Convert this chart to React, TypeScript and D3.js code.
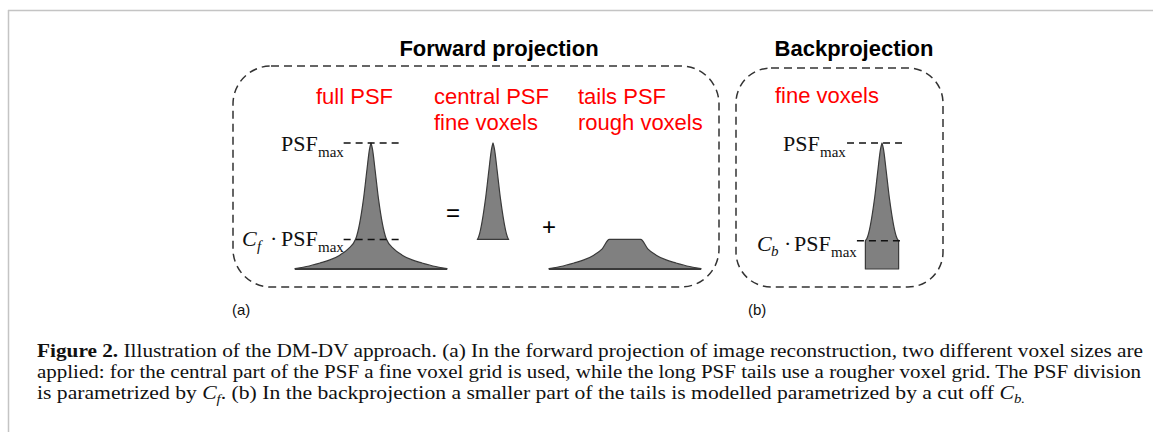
import React from 'react';
import * as d3 from 'd3';

const W = 1153;
const H = 432;

// PSF half-profile: distance from centre (fraction of half-base) and height (fraction of PSF_max)
const PROFILE_X = [0, 0.02, 0.053, 0.1, 0.2, 0.3, 0.41, 0.55, 0.67, 0.85, 1.0];
const PROFILE_Y = [1.0, 0.95, 0.79, 0.55, 0.24, 0.16, 0.11, 0.07, 0.048, 0.02, 0.004];
const CF = 0.235; // forward projection cut
const CB = 0.225; // backprojection cut off

const PANEL_TITLES = ['Forward projection', 'Backprojection'];
const PANEL_TAGS = ['(a)', '(b)'];
const RED_FULL = ['full PSF'];
const RED_CENTRAL = ['central PSF', 'fine voxels'];
const RED_TAILS = ['tails PSF', 'rough voxels'];
const RED_BACK = ['fine voxels'];
const CAPTION_L1 = ' Illustration of the DM-DV approach. (a) In the forward projection of image reconstruction, two different voxel sizes are';
const CAPTION_L2 = 'applied: for the central part of the PSF a fine voxel grid is used, while the long PSF tails use a rougher voxel grid. The PSF division';
const CAPTION_L3A = 'is parametrized by ';
const CAPTION_L3B = '. (b) In the backprojection a smaller part of the tails is modelled parametrized by a cut off ';

type P = [number, number];

const yS = d3.scaleLinear().domain([0, 1]).range([269, 143]);
const mkX = (c: number) => d3.scaleLinear().domain([-1, 1]).range([c - 76, c + 76]);
const xFull = mkX(371);
const xCentral = mkX(493);
const xTails = mkX(625);
const xBack = mkX(882);
const hwAt = d3.scaleLinear().domain(PROFILE_Y).range(PROFILE_X);

const pts: P[] = PROFILE_X.map((x, i) => [x, PROFILE_Y[i]] as P);
const mirror = (a: P[]) => a.map((p) => [-p[0], p[1]] as P).reverse();

const lineFor = (xs: d3.ScaleLinear<number, number>) =>
  d3.line<P>().x((d) => xs(d[0])).y((d) => yS(d[1])).curve(d3.curveMonotoneX);

function fullPath(xs: d3.ScaleLinear<number, number>) {
  const ln = lineFor(xs);
  return (
    ln(mirror(pts))! +
    ln(pts)!.replace(/^M/, 'L') +
    `L${xs(1)},${yS(0)}L${xs(-1)},${yS(0)}Z`
  );
}

function topPath(xs: d3.ScaleLinear<number, number>, cut: number, toBase: boolean) {
  const ln = lineFor(xs);
  const right: P[] = [...pts.filter((p) => p[1] > cut), [hwAt(cut), cut]];
  const left = mirror(right);
  let d = ln(left)! + ln(right)!.replace(/^M/, 'L');
  if (toBase) {
    const hw = hwAt(cut);
    d += `L${xs(hw)},${yS(0)}L${xs(-hw)},${yS(0)}`;
  }
  return d + 'Z';
}

function tailsPath(xs: d3.ScaleLinear<number, number>, cut: number) {
  const ln = lineFor(xs);
  const right: P[] = [[hwAt(cut), cut], ...pts.filter((p) => p[1] < cut)];
  const all = [...mirror(right), ...right];
  return ln(all)! + `L${xs(1)},${yS(0)}L${xs(-1)},${yS(0)}Z`;
}

const FILL = '#808080';
const EDGE = '#3a3a3a';
const SANS = '"Liberation Sans", Arial, sans-serif';
const SERIF = '"Liberation Serif", "Times New Roman", serif';

const Dashed = ({ x1, x2, y }: { x1: number; x2: number; y: number }) => (
  <line x1={x1} x2={x2} y1={y} y2={y} stroke="#111" strokeWidth={1.5} strokeDasharray="7,5" />
);

export default function App() {
  const fullD = fullPath(xFull);
  const centralD = topPath(xCentral, CF, false);
  const tailsD = tailsPath(xTails, CF);
  const backD = topPath(xBack, CB, true);

  return (
    <svg
      width={W}
      height={H}
      viewBox={`0 0 ${W} ${H}`}
      style={{ position: 'absolute', left: 0, top: 0, background: '#fff' }}
    >
      <rect x={0} y={0} width={W} height={H} fill="#fff" />
      {/* page frame */}
      <line x1={8} x2={W} y1={10.5} y2={10.5} stroke="#c4c4c4" strokeWidth={1.5} />
      <line x1={8.5} x2={8.5} y1={10} y2={H} stroke="#c4c4c4" strokeWidth={1.5} />

      {/* titles */}
      <text x={499} y={56} fontFamily={SANS} fontWeight="bold" fontSize={22} textAnchor="middle" fill="#000">
        {PANEL_TITLES[0]}
      </text>
      <text x={854} y={56} fontFamily={SANS} fontWeight="bold" fontSize={22} textAnchor="middle" fill="#000">
        {PANEL_TITLES[1]}
      </text>

      {/* dashed boxes */}
      <rect x={233} y={66} width={486} height={221} rx={38} ry={38} fill="none" stroke="#333" strokeWidth={1.5} strokeDasharray="8,5" />
      <rect x={736} y={68} width={207} height={219} rx={35} ry={35} fill="none" stroke="#333" strokeWidth={1.5} strokeDasharray="8,5" />

      {/* red labels */}
      <g fontFamily={SANS} fontSize={22} fill="#ff0000">
        {RED_FULL.map((t, i) => (
          <text key={'f' + i} x={316} y={104 + i * 26}>{t}</text>
        ))}
        {RED_CENTRAL.map((t, i) => (
          <text key={'c' + i} x={434} y={104 + i * 26}>{t}</text>
        ))}
        {RED_TAILS.map((t, i) => (
          <text key={'t' + i} x={578} y={104 + i * 26}>{t}</text>
        ))}
        {RED_BACK.map((t, i) => (
          <text key={'b' + i} x={775} y={103 + i * 26}>{t}</text>
        ))}
      </g>

      {/* PSF shapes */}
      <path d={fullD} fill={FILL} stroke={EDGE} strokeWidth={1.2} strokeLinejoin="round" />
      <line x1={xFull(-1)} x2={xFull(1)} y1={yS(0)} y2={yS(0)} stroke={EDGE} strokeWidth={2.2} />
      <path d={centralD} fill={FILL} stroke={EDGE} strokeWidth={1.2} strokeLinejoin="round" />
      <path d={tailsD} fill={FILL} stroke={EDGE} strokeWidth={1.2} strokeLinejoin="round" />
      <line x1={xTails(-1)} x2={xTails(1)} y1={yS(0)} y2={yS(0)} stroke={EDGE} strokeWidth={2.2} />
      <path d={backD} fill={FILL} stroke={EDGE} strokeWidth={1.2} strokeLinejoin="round" />

      {/* operators */}
      <text x={453} y={221} fontFamily={SANS} fontSize={24} textAnchor="middle" fill="#000">=</text>
      <text x={549} y={235} fontFamily={SANS} fontSize={24} textAnchor="middle" fill="#000">+</text>

      {/* reference dashed lines */}
      <Dashed x1={xFull(-0.36)} x2={xFull(0.41)} y={yS(1)} />
      <Dashed x1={xFull(-0.36)} x2={xFull(0.42)} y={yS(CF)} />
      <Dashed x1={xBack(-0.46)} x2={xBack(0.3)} y={yS(1)} />
      <Dashed x1={xBack(-0.33)} x2={xBack(0.3)} y={yS(CB)} />

      {/* level labels */}
      <g fontFamily={SERIF} fill="#111">
        <text x={281} y={151} fontSize={22}>PSF</text>
        <text x={318} y={157} fontSize={15}>max</text>

        <text x={242} y={246} fontSize={22} fontStyle="italic">C</text>
        <text x={257} y={251} fontSize={15} fontStyle="italic">f</text>
        <text x={270} y={246} fontSize={22}>·</text>
        <text x={281} y={246} fontSize={22}>PSF</text>
        <text x={318} y={252} fontSize={15}>max</text>

        <text x={783} y={151} fontSize={22}>PSF</text>
        <text x={820} y={157} fontSize={15}>max</text>

        <text x={757} y={251} fontSize={22} fontStyle="italic">C</text>
        <text x={771} y={256} fontSize={15} fontStyle="italic">b</text>
        <text x={784} y={251} fontSize={22}>·</text>
        <text x={794} y={251} fontSize={22}>PSF</text>
        <text x={831} y={257} fontSize={15}>max</text>
      </g>

      {/* panel tags */}
      <text x={232} y={315} fontFamily={SANS} fontSize={15} fill="#111">{PANEL_TAGS[0]}</text>
      <text x={748} y={315} fontFamily={SANS} fontSize={15} fill="#111">{PANEL_TAGS[1]}</text>

      {/* caption */}
      <g fontFamily={SERIF} fontSize={19} fill="#111">
        <text x={37} y={357} textLength={1106} lengthAdjust="spacingAndGlyphs">
          <tspan fontWeight="bold">Figure 2.</tspan>
          <tspan>{CAPTION_L1}</tspan>
        </text>
        <text x={37} y={378} textLength={1104} lengthAdjust="spacingAndGlyphs">
          {CAPTION_L2}
        </text>
        <text x={37} y={399} textLength={988} lengthAdjust="spacingAndGlyphs">
          <tspan>{CAPTION_L3A}</tspan>
          <tspan fontStyle="italic">C</tspan>
          <tspan fontStyle="italic" fontSize={13} dy={4}>f</tspan>
          <tspan dy={-4}>{CAPTION_L3B}</tspan>
          <tspan fontStyle="italic">C</tspan>
          <tspan fontStyle="italic" fontSize={13} dy={4}>b.</tspan>
        </text>
      </g>
    </svg>
  );
}
